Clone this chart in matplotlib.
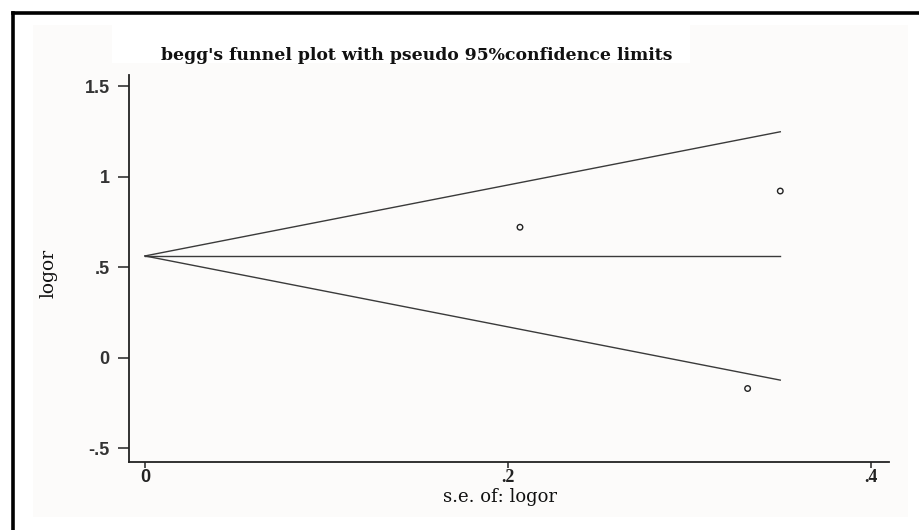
import numpy as np
import matplotlib
matplotlib.use("Agg")
import matplotlib.pyplot as plt
from matplotlib.patches import Rectangle
from matplotlib.lines import Line2D

# study estimates: standard error and log odds ratio
se = [0.2066, 0.350, 0.332]
logor = [0.72, 0.92, -0.171]

x_ticks = [0, 0.2, 0.4]
x_tick_labels = ["0", ".2", ".4"]
y_ticks = [-0.5, 0, 0.5, 1, 1.5]
y_tick_labels = ["-.5", "0", ".5", "1", "1.5"]

# fixed-effect pooled estimate and pseudo 95% limits
w = 1 / np.square(se)
pooled = float(np.sum(w * np.array(logor)) / np.sum(w))
se_max = max(se)
se_line = np.array([0.0, se_max])

W, H = 919, 530
fig = plt.figure(figsize=(W / 100, H / 100), dpi=100)
fig.patch.set_facecolor("white")

def fx(px):
    return px / W

def fy(py):
    return 1 - py / H

bg = "#fcfbfa"
# graph region background
fig.patches.append(Rectangle((fx(33), fy(517)), fx(908) - fx(33), fy(25) - fy(517),
                             transform=fig.transFigure, facecolor=bg, edgecolor="none", zorder=-10))
# white band behind the title
fig.patches.append(Rectangle((fx(112), fy(63)), fx(690) - fx(112), fy(25) - fy(63),
                             transform=fig.transFigure, facecolor="white", edgecolor="none", zorder=-9))
# outer frame (left and top edges)
fig.lines.append(Line2D([fx(12.5), fx(12.5)], [0, fy(12.5)], transform=fig.transFigure,
                        color="black", lw=2.6, zorder=5))
fig.lines.append(Line2D([fx(12.5), 1], [fy(12.5), fy(12.5)], transform=fig.transFigure,
                        color="black", lw=2.6, zorder=5))

ax = fig.add_axes([fx(129), fy(462), fx(889) - fx(129), fy(75) - fy(462)])
ax.set_zorder(1)
ax.patch.set_visible(False)

line_col = "#3a3a3a"
ax.plot(se_line, pooled + 1.96 * se_line, color=line_col, lw=1.0)
ax.plot(se_line, pooled - 1.96 * se_line, color=line_col, lw=1.0)
ax.plot(se_line, [pooled, pooled], color=line_col, lw=1.0)
ax.scatter(se, logor, s=16, facecolors="none", edgecolors="#222222", linewidths=1.0, zorder=3)

ax.set_xlim(-0.0088, 0.4099)
ax.set_ylim(-0.577, 1.561)

for side in ("top", "right"):
    ax.spines[side].set_visible(False)
for side in ("left", "bottom"):
    ax.spines[side].set_color("#222222")
    ax.spines[side].set_linewidth(1.3)

ax.set_yticks(y_ticks)
ax.set_yticklabels(y_tick_labels, family="Liberation Sans", fontweight="bold",
                   fontsize=13, color="#333333")
ax.set_xticks(x_ticks)
ax.set_xticklabels(x_tick_labels, fontsize=13, color="#222222")
xfams = ["Liberation Sans", "Liberation Serif", "Liberation Serif"]
for lab, fam in zip(ax.get_xticklabels(), xfams):
    lab.set_family(fam)
    lab.set_fontweight("bold")
ax.tick_params(axis="y", length=8, width=1.1, color="#222222", pad=6)
ax.tick_params(axis="x", length=4.5, width=1.1, color="#222222", pad=0.5)

fig.text(fx(417), fy(55), "begg's funnel plot with pseudo 95%confidence limits",
         family="DejaVu Serif", fontweight="bold", fontsize=12.4, color="#111111",
         ha="center", va="center")
fig.text(fx(500), fy(497), "s.e. of: logor", family="DejaVu Serif",
         fontsize=13, color="#111111", ha="center", va="center")
fig.text(fx(48), fy(273), "logor", family="DejaVu Serif", fontsize=13.5,
         color="#111111", ha="center", va="center", rotation=90)

fig.savefig("out.png", dpi=100)
